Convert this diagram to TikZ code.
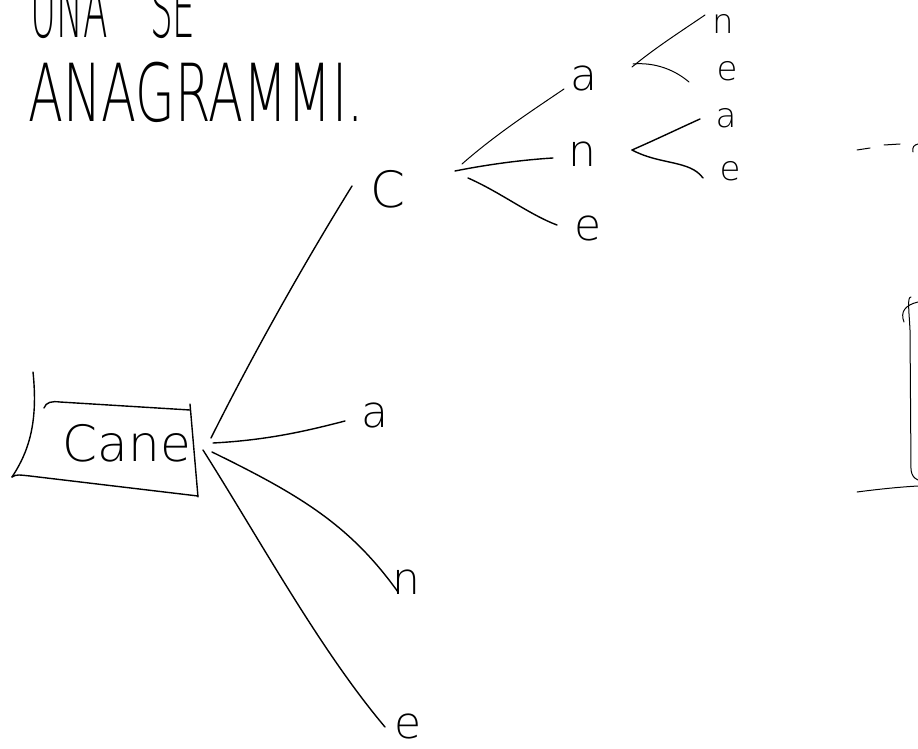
\documentclass[tikz,border=0pt]{standalone}
\usepackage{fontspec}
\setmainfont{Liberation Sans}
\newfontfamily\thinfont{DejaVu Sans ExtraLight}
\begin{document}
\begin{tikzpicture}[x=1pt,y=-1pt,
  ink/.style={line width=1.4pt, line cap=round, line join=round},
  fine/.style={line width=1.0pt, line cap=round, line join=round},
  caps/.style={font=\thinfont\fontsize{80}{80}\selectfont, inner sep=0pt, anchor=base west, xscale=0.64},
  big/.style={font=\thinfont\fontsize{50}{50}\selectfont, inner sep=0pt},
  mid/.style={font=\thinfont\fontsize{44}{44}\selectfont, inner sep=0pt},
  small/.style={font=\thinfont\fontsize{34}{34}\selectfont, inner sep=0pt},
]
\useasboundingbox (0,0) rectangle (918,749);
\begin{scope}
\clip (0,0) rectangle (918,749);

% heading
\node[caps, xscale=0.7] (t1) at (30,38) {UNA};
\node[caps, xscale=0.7] (t2) at (150,38) {SE};
\node[caps] (t3) at (28,122) {ANAGRAMMI.};

% root word in its box
\node[font=\thinfont\fontsize{50}{50}\selectfont, inner sep=0pt, anchor=base] (cane) at (127,461) {Cane};
\draw[ink] (33,372) .. controls (38,420) and (30,450) .. (12,477);
\draw[ink] (44,408) .. controls (46,402) and (52,401) .. (60,402) -- (190,410);
\draw[ink] (190,404) -- (198,497);
\draw[ink] (12,477) .. controls (16,474) and (20,475) .. (30,476) -- (198,496);

% first level
\node[big] (c1) at (388,189) {C};
\node[mid] (a1) at (375,415) {a};
\node[mid] (n1) at (406,582) {n};
\node[mid] (e1) at (408,726) {e};

\coordinate (r1) at (211,438);
\coordinate (r2) at (213,443);
\coordinate (r3) at (212,452);
\coordinate (r4) at (203,450);
\draw[ink] (r1) .. controls (250,360) and (300,270) .. (352,186);
\draw[ink] (r2) .. controls (270,440) and (310,430) .. (345,421);
\draw[ink] (r3) .. controls (300,495) and (350,525) .. (398,592);
\draw[ink] (r4) .. controls (260,540) and (320,650) .. (385,727);

% second level
\node[mid] (a2) at (584,78) {a};
\node[mid] (n2) at (582,154) {n};
\node[mid] (e2) at (588,228) {e};

\coordinate (c1a) at (462,164);
\coordinate (c1n) at (455,171);
\coordinate (c1e) at (468,178);
\draw[fine] (c1a) .. controls (495,135) and (530,112) .. (564,89);
\draw[ink] (c1n) .. controls (485,165) and (520,160) .. (553,158);
\draw[ink] (c1e) .. controls (500,192) and (530,215) .. (557,225);

% third level
\node[small] (n3) at (723,24) {n};
\node[small] (e3) at (727,71) {e};
\node[small] (a3) at (726,118) {a};
\node[small] (e4) at (730,171) {e};

\coordinate (fa) at (632,67);
\coordinate (fa2) at (633,64);
\draw[fine] (fa) .. controls (655,48) and (680,32) .. (705,15);
\draw[fine] (fa2) .. controls (655,62) and (675,70) .. (689,82);
\coordinate (fn) at (632,150);
\draw[ink] (fn) .. controls (655,140) and (680,128) .. (700,119);
\draw[ink] (fn) .. controls (660,165) and (690,160) .. (703,178);

% right margin strokes
\draw[fine] (857,150) -- (870,148);
\draw[fine] (884,145) -- (900,144);
\draw[fine] (913,152) .. controls (912,147) and (914,145) .. (918,144);
\draw[fine] (911,297) .. controls (907,297) and (909,310) .. (910,330) -- (911,470) .. controls (912,476) and (914,478) .. (918,480);
\draw[fine] (904,322) .. controls (900,312) and (905,305) .. (918,302);
\draw[fine] (857,492) .. controls (880,489) and (900,487) .. (918,486);
\end{scope}
\end{tikzpicture}
\end{document}
